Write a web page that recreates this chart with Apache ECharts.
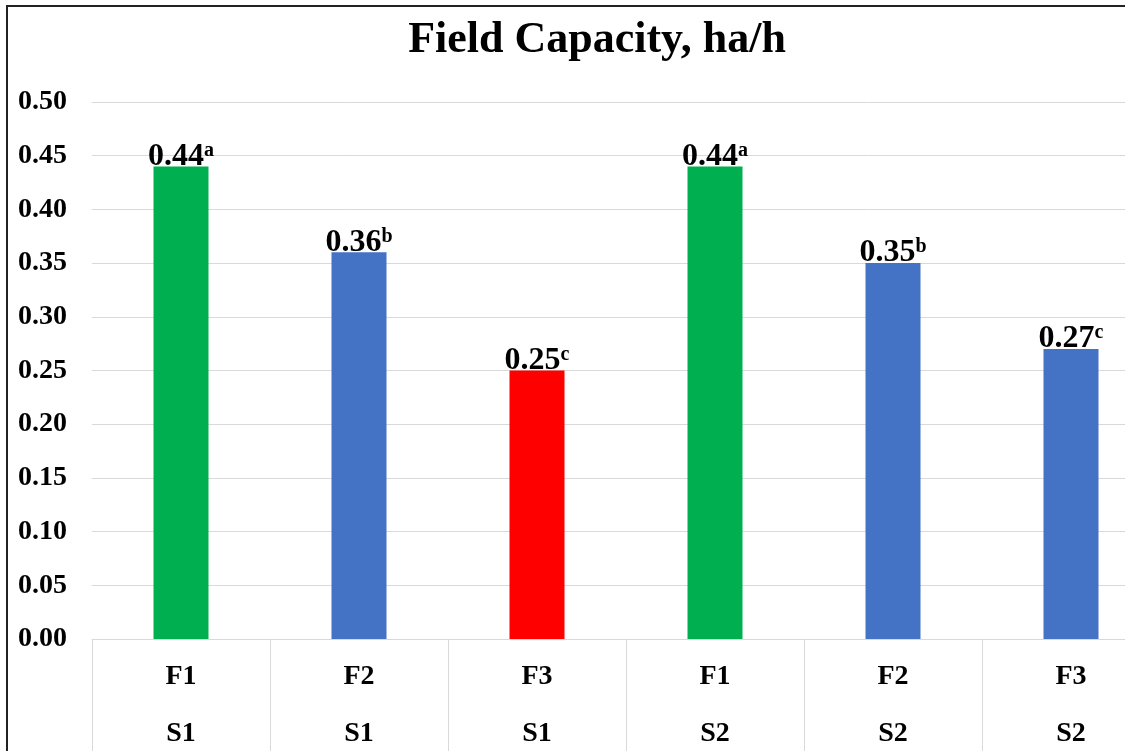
<!DOCTYPE html>
<html lang="en">
<head>
    <title>Field Capacity</title>
    <meta charset="utf-8">
    <style>
        html, body { margin: 0; padding: 0; background: #fff; }
        #chart { width: 1125px; height: 751px; }
    </style>
</head>
<body>
    <div id="chart"></div>
    <script src="https://cdn.jsdelivr.net/npm/echarts@6/dist/echarts.min.js"></script>
    <script type="text/javascript">
        // data
        var fLabels = ["F1", "F2", "F3", "F1", "F2", "F3"];
        var sLabels = ["S1", "S1", "S1", "S2", "S2", "S2"];
        var values = [0.44, 0.36, 0.25, 0.44, 0.35, 0.27];
        var letters = ["a", "b", "c", "a", "b", "c"];
        var barColors = ["#00B050", "#4472C4", "#FF0000", "#00B050", "#4472C4", "#4472C4"];

        var serif = "'Times New Roman', 'Liberation Serif', serif";

        var categories = fLabels.map(function (f, i) { return f + "\n" + sLabels[i]; });

        var option = {
            backgroundColor: "#fff",
            animation: false,
            title: {
                text: "Field Capacity, ha/h",
                left: 592,
                textAlign: "center",
                top: 14,
                textStyle: {
                    fontFamily: serif,
                    fontWeight: "bold",
                    fontSize: 44,
                    color: "#000"
                }
            },
            graphic: [{
                type: "rect",
                shape: { x: 7, y: 6, width: 1400, height: 1000 },
                style: { fill: "none", stroke: "#222", lineWidth: 2 },
                z: 100
            }],
            grid: {
                left: 92,
                right: -35,
                top: 102,
                bottom: 112,
                containLabel: false,
                outerBoundsMode: "none"
            },
            xAxis: {
                type: "category",
                data: categories,
                axisLine: { show: true, lineStyle: { color: "#d9d9d9", width: 1 } },
                axisTick: {
                    show: true,
                    interval: 0,
                    length: 130,
                    lineStyle: { color: "#d9d9d9", width: 1 }
                },
                axisLabel: {
                    interval: 0,
                    margin: 9,
                    fontFamily: serif,
                    fontWeight: "bold",
                    fontSize: 28,
                    lineHeight: 57,
                    color: "#000"
                }
            },
            yAxis: {
                type: "value",
                min: 0,
                max: 0.5,
                interval: 0.05,
                axisLine: { show: false },
                axisTick: { show: false },
                splitLine: { lineStyle: { color: "#d9d9d9", width: 1 } },
                axisLabel: {
                    margin: 25,
                    fontFamily: serif,
                    fontWeight: "bold",
                    fontSize: 28,
                    color: "#000",
                    formatter: function (v) { return v.toFixed(2); }
                }
            },
            series: [{
                type: "bar",
                barWidth: 55,
                data: values.map(function (v, i) {
                    return { value: v, itemStyle: { color: barColors[i] } };
                }),
                label: {
                    show: true,
                    position: "top",
                    distance: -6,
                    formatter: function (p) {
                        return "{v|" + values[p.dataIndex].toFixed(2) + "}{s|" + letters[p.dataIndex] + "}";
                    },
                    rich: {
                        v: {
                            fontFamily: serif,
                            fontWeight: "bold",
                            fontSize: 32,
                            lineHeight: 32,
                            color: "#000"
                        },
                        s: {
                            fontFamily: serif,
                            fontWeight: "bold",
                            fontSize: 20,
                            lineHeight: 32,
                            verticalAlign: "top",
                            color: "#000"
                        }
                    }
                }
            }]
        };

        var mychart = echarts.init(document.getElementById("chart"));
        mychart.setOption(option);
    </script>
</body>
</html>
